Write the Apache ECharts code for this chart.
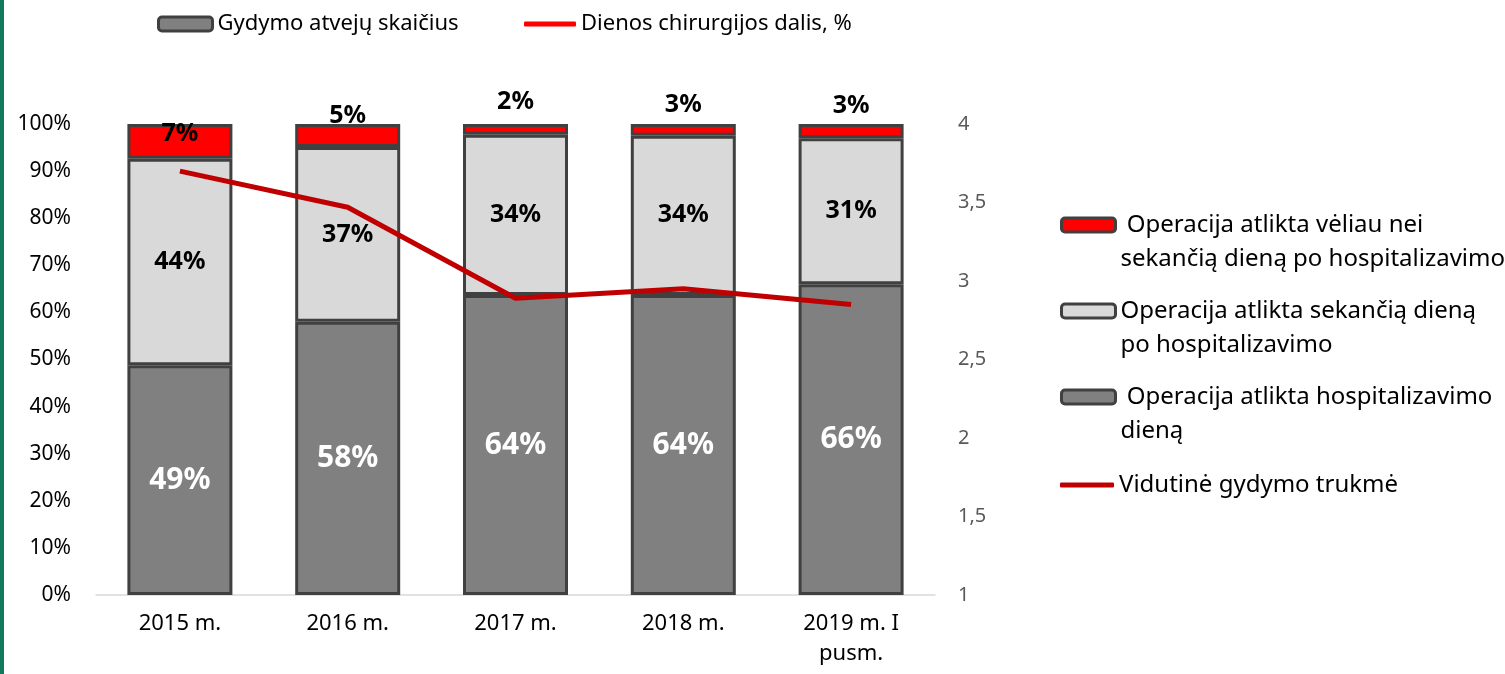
<!DOCTYPE html>
<html>
<head>
<meta charset="utf-8">
<script src="https://cdn.jsdelivr.net/npm/echarts@6/dist/echarts.min.js"></script>
<style>
  html, body { margin: 0; padding: 0; background: #fff; }
  #chart { width: 1505px; height: 674px; }
</style>
</head>
<body>
<div id="chart"></div>
<script>
// categories
var years = ['2015 m.', '2016 m.', '2017 m.', '2018 m.', '2019 m. I\npusm.']

// shares, % (labels are rounded)
var sameDay = [48.8, 58.0, 63.7, 63.7, 66.0]
var nextDay = [43.8, 37.1, 34.0, 33.8, 31.0]
var laterDay = [7.4, 4.9, 2.3, 2.5, 3.0]

// average treatment length, days (right axis)
var avgLength = [3.70, 3.47, 2.89, 2.95, 2.85]

// right axis range
var rightMin = 1
var rightMax = 4

var FONT = '"Noto Sans", "Open Sans", sans-serif'

// small upward nudge of the red labels (they sit above the thin segments)
var redLabelDy = [-8, -20, -28, -25, -25]

var chart = echarts.init(document.getElementById('chart'))

function pct(p) {
  return Math.round(p.value) + '%'
}

var names = {
  later: ' Operacija atlikta vėliau nei\nsekančią dieną po hospitalizavimo',
  next: 'Operacija atlikta sekančią dieną\npo hospitalizavimo',
  same: ' Operacija atlikta hospitalizavimo\ndieną',
  avg: 'Vidutinė gydymo trukmė',
  count: 'Gydymo atvejų skaičius',
  share: 'Dienos chirurgijos dalis, %'
}

var legendText = { fontFamily: FONT, fontSize: 24, color: '#000', lineHeight: 34 }
var legendBox = { borderColor: '#404040', borderWidth: 3 }

// one legend per entry so each one can sit where it sits in the original
function sideLegend(name, top, isLine, twoLines) {
  return {
    left: 1055,
    top: top,
    itemWidth: 54,
    itemHeight: isLine ? 5 : 14,
    itemGap: 0,
    selectedMode: false,
    data: [{ name: name, icon: 'roundRect' }],
    itemStyle: isLine ? { borderWidth: 0 } : legendBox,
    // leading empty line keeps the icon level with the first text line
    formatter: twoLines ? function (n) { return '\n' + n } : '{name}',
    textStyle: legendText
  }
}

var barBorder = { borderColor: '#404040', borderWidth: 3 }

chart.setOption({
  animation: false,
  backgroundColor: '#fff',
  graphic: [{
    type: 'rect',
    left: 0,
    top: 0,
    shape: { width: 4, height: 674 },
    style: { fill: '#127a5c' }
  }],
  legend: [
    {
      left: 152,
      top: 6,
      itemWidth: 54,
      itemHeight: 14,
      selectedMode: false,
      data: [names.count],
      itemStyle: legendBox,
      textStyle: { fontFamily: FONT, fontSize: 22, color: '#000', lineHeight: 26 }
    },
    {
      left: 519,
      top: 6,
      itemWidth: 52,
      itemHeight: 5,
      selectedMode: false,
      data: [{ name: names.share, icon: 'roundRect' }],
      itemStyle: { borderWidth: 0 },
      textStyle: { fontFamily: FONT, fontSize: 22, color: '#000', lineHeight: 26 }
    },
    sideLegend(names.later, 169, false, true),
    sideLegend(names.next, 255, false, true),
    sideLegend(names.same, 341, false, true),
    sideLegend(names.avg, 463, true, false)
  ],
  grid: {
    left: 96,
    right: 570,
    top: 124,
    bottom: 79
  },
  xAxis: {
    type: 'category',
    data: years,
    axisLine: { lineStyle: { color: '#d9d9d9', width: 1.5 } },
    axisTick: { show: false },
    axisLabel: {
      fontFamily: FONT,
      fontSize: 22,
      color: '#000',
      margin: 14,
      lineHeight: 30
    }
  },
  yAxis: [
    {
      type: 'value',
      min: 0,
      max: 100,
      interval: 10,
      splitLine: { show: false },
      axisLine: { show: false },
      axisTick: { show: false },
      axisLabel: {
        fontFamily: FONT,
        fontSize: 21,
        color: '#000',
        margin: 25,
        formatter: '{value}%'
      }
    },
    {
      type: 'value',
      min: rightMin,
      max: rightMax,
      interval: 0.5,
      splitLine: { show: false },
      axisLine: { show: false },
      axisTick: { show: false },
      axisLabel: {
        fontFamily: FONT,
        fontSize: 20,
        color: '#595959',
        margin: 23,
        formatter: function (v) { return String(v).replace('.', ',') }
      }
    }
  ],
  series: [
    {
      name: names.same,
      type: 'bar',
      stack: 'share',
      barWidth: 105,
      data: sameDay,
      itemStyle: Object.assign({ color: '#808080' }, barBorder),
      label: {
        show: true,
        position: 'inside',
        formatter: pct,
        fontFamily: FONT,
        fontSize: 30,
        fontWeight: 'bold',
        color: '#fff'
      }
    },
    {
      name: names.next,
      type: 'bar',
      stack: 'share',
      data: nextDay,
      itemStyle: Object.assign({ color: '#d9d9d9' }, barBorder),
      label: {
        show: true,
        position: 'inside',
        formatter: pct,
        fontFamily: FONT,
        fontSize: 25,
        fontWeight: 'bold',
        color: '#000'
      }
    },
    {
      name: names.later,
      type: 'bar',
      stack: 'share',
      data: laterDay.map(function (v, i) {
        return { value: v, label: { offset: [0, redLabelDy[i]] } }
      }),
      itemStyle: Object.assign({ color: '#ff0000' }, barBorder),
      label: {
        show: true,
        position: 'inside',
        formatter: pct,
        fontFamily: FONT,
        fontSize: 25,
        fontWeight: 'bold',
        color: '#000'
      }
    },
    {
      name: names.avg,
      type: 'line',
      yAxisIndex: 1,
      data: avgLength,
      symbol: 'none',
      lineStyle: { color: '#c00000', width: 5 },
      itemStyle: { color: '#c00000' },
      z: 5
    },
    // legend-only entries shown at the top of the original chart
    // (same stack, so it takes no slot of its own next to the bars)
    {
      name: names.count,
      type: 'bar',
      stack: 'share',
      data: [],
      itemStyle: Object.assign({ color: '#808080' }, barBorder)
    },
    {
      name: names.share,
      type: 'line',
      data: [],
      itemStyle: { color: '#ff0000' },
      lineStyle: { color: '#ff0000', width: 5 }
    }
  ]
})
</script>
</body>
</html>
